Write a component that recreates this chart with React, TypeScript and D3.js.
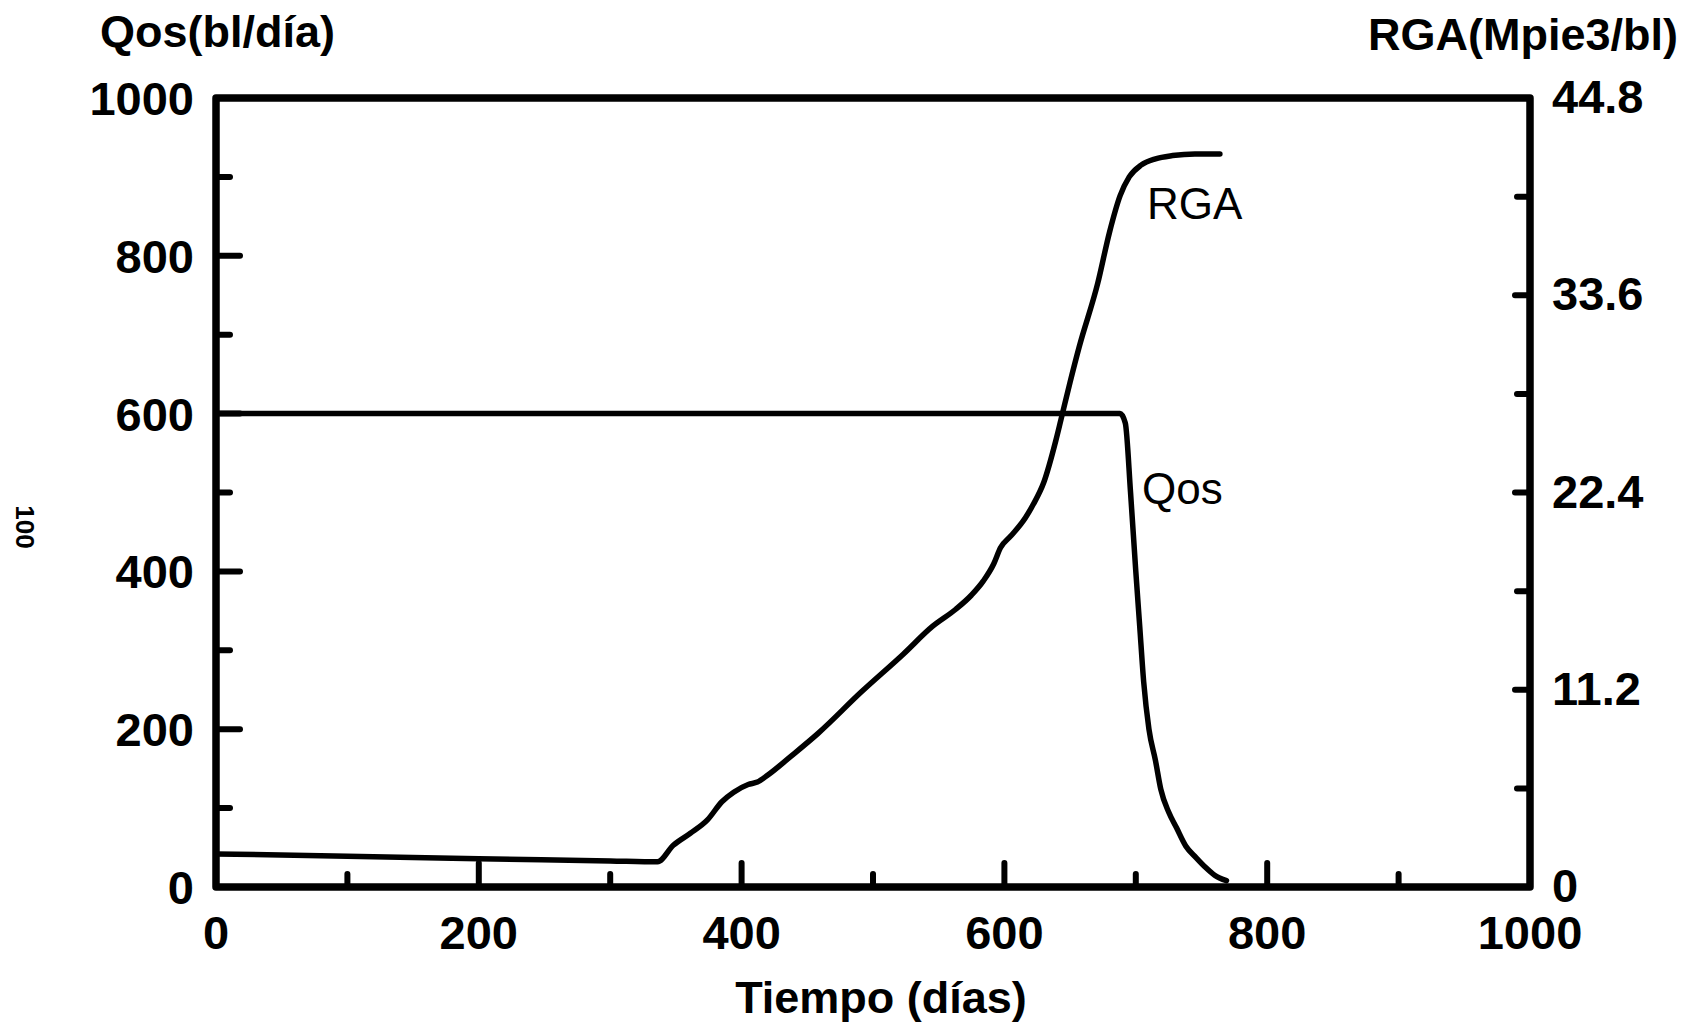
import React from "react";
import * as d3 from "d3";

// Tiempo (días) vs Qos (bl/día)
const qosDays = [0, 688, 692, 696, 700, 703, 706, 710, 715, 719, 725, 731, 738, 746, 753, 760, 769];
const qosValues = [600, 600, 588, 500, 400, 330, 260, 200, 160, 124, 95, 75, 52, 37, 25, 15, 8];

// Tiempo (días) vs RGA (Mpie3/bl)
const rgaDays = [0, 100, 200, 300, 336, 348, 361, 374, 385, 394, 405, 412, 420, 437, 458, 491, 523, 545, 563, 575, 584, 592, 597, 605, 616, 622, 630, 639, 643, 650, 657, 671, 680, 688, 695, 704, 715, 728, 745, 764];
const rgaValues = [1.88, 1.75, 1.61, 1.48, 1.43, 2.37, 3.05, 3.81, 4.84, 5.38, 5.82, 5.96, 6.36, 7.39, 8.71, 11.07, 13.22, 14.78, 15.77, 16.58, 17.38, 18.37, 19.26, 19.94, 20.97, 21.73, 22.98, 25.31, 26.52, 28.67, 30.69, 34.27, 37.18, 39.24, 40.32, 40.99, 41.35, 41.53, 41.62, 41.62];

const xTicks = [0, 200, 400, 600, 800, 1000];
const xMinorTicks = [100, 300, 500, 700, 900];
const yLeftTicks = [0, 200, 400, 600, 800, 1000];
const yLeftMinorTicks = [100, 300, 500, 700, 900];
const yRightTicks = [0, 11.2, 22.4, 33.6, 44.8];
const yRightMinorTicks = [5.6, 16.8, 28, 39.2];

const FONT = "'Liberation Sans', Arial, sans-serif";

export default function App() {
  const W = 1690, H = 1025;
  const left = 216, right = 1530, top = 98, bottom = 887;

  const x = d3.scaleLinear().domain([0, 1000]).range([left, right]);
  const yL = d3.scaleLinear().domain([0, 1000]).range([bottom, top]);
  const yR = d3.scaleLinear().domain([0, 44.8]).range([bottom, top]);

  const qosLine = d3.line<number>()
    .x((d, i) => x(qosDays[i]))
    .y(d => yL(d))
    .curve(d3.curveMonotoneX);
  const rgaLine = d3.line<number>()
    .x((d, i) => x(rgaDays[i]))
    .y(d => yR(d))
    .curve(d3.curveMonotoneX);

  const axisW = 7.5;
  const lineW = 5.5;

  return (
    <svg width={W} height={H} style={{ position: "absolute", left: 0, top: 0, background: "#fff" }}>
      <rect x={0} y={0} width={W} height={H} fill="#fff" />

      {/* curves */}
      <path d={qosLine(qosValues) || ""} fill="none" stroke="#000" strokeWidth={lineW} strokeLinejoin="round" strokeLinecap="round" />
      <path d={rgaLine(rgaValues) || ""} fill="none" stroke="#000" strokeWidth={lineW} strokeLinejoin="round" strokeLinecap="round" />

      {/* left ticks (inward) */}
      {yLeftTicks.slice(1, -1).map(v => (
        <line key={"yl" + v} x1={left} x2={left + 24} y1={yL(v)} y2={yL(v)} stroke="#000" strokeWidth={6} strokeLinecap="round" />
      ))}
      {yLeftMinorTicks.map(v => (
        <line key={"ylm" + v} x1={left} x2={left + 14} y1={yL(v)} y2={yL(v)} stroke="#000" strokeWidth={6} strokeLinecap="round" />
      ))}
      {/* bottom ticks */}
      {xTicks.slice(1, -1).map(v => (
        <line key={"xt" + v} x1={x(v)} x2={x(v)} y1={bottom} y2={bottom - 24} stroke="#000" strokeWidth={6} strokeLinecap="round" />
      ))}
      {xMinorTicks.map(v => (
        <line key={"xm" + v} x1={x(v)} x2={x(v)} y1={bottom} y2={bottom - 13} stroke="#000" strokeWidth={6} strokeLinecap="round" />
      ))}
      {/* right ticks */}
      {yRightTicks.slice(1, -1).map(v => (
        <line key={"yr" + v} x1={right} x2={right - 15} y1={yR(v)} y2={yR(v)} stroke="#000" strokeWidth={6} strokeLinecap="round" />
      ))}
      {yRightMinorTicks.map(v => (
        <line key={"yrm" + v} x1={right} x2={right - 13} y1={yR(v)} y2={yR(v)} stroke="#000" strokeWidth={6} strokeLinecap="round" />
      ))}

      {/* frame */}
      <rect x={left} y={top} width={right - left} height={bottom - top} fill="none" stroke="#000" strokeWidth={axisW} strokeLinejoin="round" />

      {/* tick labels */}
      <g fontFamily={FONT} fontWeight="bold" fontSize={47} fill="#000">
        {yLeftTicks.map(v => (
          <text key={"lyl" + v} x={left - 22} y={yL(v) + 17} textAnchor="end">{v}</text>
        ))}
        {yRightTicks.map(v => (
          <text key={"lyr" + v} x={right + 22} y={yR(v) + 15} textAnchor="start">{v === 0 ? "0" : v.toFixed(1)}</text>
        ))}
        {xTicks.map(v => (
          <text key={"lx" + v} x={x(v)} y={949} textAnchor="middle">{v}</text>
        ))}
      </g>

      {/* axis titles */}
      <g fontFamily={FONT} fontWeight="bold" fontSize={45} fill="#000">
        <text x={100} y={47} textAnchor="start">Qos(bl/día)</text>
        <text x={1678} y={50} textAnchor="end">RGA(Mpie3/bl)</text>
        <text x={881} y={1013} textAnchor="middle">Tiempo (días)</text>
      </g>

      {/* curve labels */}
      <g fontFamily={FONT} fontSize={44} fill="#000">
        <text x={1147} y={219}>RGA</text>
        <text x={1142} y={504}>Qos</text>
      </g>

      <text x={25} y={527} fontFamily={FONT} fontWeight="bold" fontSize={26} textAnchor="middle" dominantBaseline="central" transform="rotate(90 25 527)">100</text>
    </svg>
  );
}
